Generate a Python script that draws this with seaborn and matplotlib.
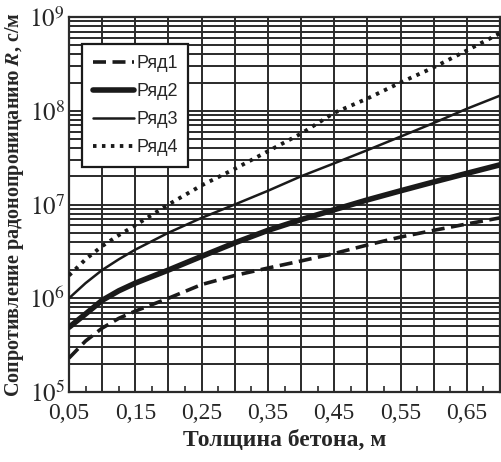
import matplotlib
matplotlib.use("Agg")
import matplotlib.pyplot as plt
import matplotlib.transforms as mtransforms
import seaborn as sns
import numpy as np
import pandas as pd

# Concrete thickness, m
thickness = [0.05, 0.075, 0.10, 0.125, 0.15, 0.20, 0.25, 0.30, 0.35, 0.40,
             0.45, 0.50, 0.55, 0.60, 0.65, 0.70]

# Radon permeability resistance R, s/m
row1 = [2.3e5, 3.5e5, 4.8e5, 6.1e5, 7.3e5, 1.0e6, 1.4e6, 1.75e6, 2.1e6, 2.5e6,
        3.0e6, 3.7e6, 4.5e6, 5.3e6, 6.2e6, 7.2e6]
row2 = [4.9e5, 6.8e5, 9.5e5, 1.2e6, 1.45e6, 2.0e6, 2.8e6, 3.9e6, 5.3e6, 6.9e6,
        8.8e6, 1.12e7, 1.4e7, 1.74e7, 2.15e7, 2.65e7]
row3 = [1.0e6, 1.45e6, 2.0e6, 2.6e6, 3.3e6, 5.0e6, 7.2e6, 1.0e7, 1.4e7, 2.0e7,
        2.75e7, 3.8e7, 5.3e7, 7.4e7, 1.05e8, 1.45e8]
row4 = [1.75e6, 2.6e6, 3.6e6, 4.7e6, 6.0e6, 1.0e7, 1.6e7, 2.4e7, 3.7e7, 5.7e7,
        9.5e7, 1.35e8, 2.0e8, 2.9e8, 4.4e8, 6.7e8]

series_names = ["Ряд1", "Ряд2", "Ряд3", "Ряд4"]

x_ticks = [0.05, 0.15, 0.25, 0.35, 0.45, 0.55, 0.65]
x_tick_labels = ["0,05", "0,15", "0,25", "0,35", "0,45", "0,55", "0,65"]
y_ticks = [1e5, 1e6, 1e7, 1e8, 1e9]
y_tick_labels = [r"$10^5$", r"$10^6$", r"$10^7$", r"$10^8$", r"$10^9$"]

df = pd.DataFrame({
    "x": thickness * 4,
    "R": row1 + row2 + row3 + row4,
    "series": sum([[n] * len(thickness) for n in series_names], []),
})

sns.set_theme(style="white")
plt.rcParams["font.family"] = ["Liberation Serif", "DejaVu Serif"]
plt.rcParams["mathtext.fontset"] = "stix"

fig = plt.figure(figsize=(5.02, 4.62), dpi=100)
ax = fig.add_axes([69 / 502, 70 / 462, 431 / 502, 375 / 462])

styles = {
    "Ряд1": dict(linestyle=(0, (3.6, 1.8)), linewidth=2.6),
    "Ряд2": dict(linestyle="-", linewidth=4.0),
    "Ряд3": dict(linestyle="-", linewidth=1.8),
    "Ряд4": dict(linestyle=(0, (0.9, 1.4)), linewidth=2.8),
}

for name in series_names:
    sub = df[df["series"] == name]
    sns.lineplot(data=sub, x="x", y="R", ax=ax, color="#1a1a1a",
                 label=name, zorder=3, **styles[name])

ax.set_yscale("log")
ax.set_xlim(0.05, 0.70)
ax.set_ylim(1e5, 1e9)

# grid: every 0.05 m vertically, every log minor step horizontally
major_locs = np.arange(0.05, 0.701, 0.05)
ax.set_xticks(major_locs, minor=False)
ax.set_xticks(np.arange(0.075, 0.70, 0.05), minor=True)
ax.grid(True, which="major", axis="x", color="#2a2a2a", linewidth=1.4)
ax.set_yticks(y_ticks)
ax.yaxis.set_minor_locator(matplotlib.ticker.LogLocator(base=10, subs=np.arange(2, 10)))
ax.yaxis.set_minor_formatter(matplotlib.ticker.NullFormatter())
ax.grid(True, which="both", axis="y", color="#2a2a2a", linewidth=1.4)
ax.set_axisbelow(True)

# tick labels only every 0.1 m
labels = []
for v in major_locs:
    match = [lab for t, lab in zip(x_ticks, x_tick_labels) if abs(t - v) < 1e-6]
    labels.append(match[0] if match else "")
ax.set_xticklabels(labels, fontsize=17)
ax.set_yticklabels(y_tick_labels, fontsize=18)
first = ax.get_xticklabels()[0]
first.set_transform(first.get_transform() +
                    mtransforms.ScaledTranslation(8 / 100, 0, fig.dpi_scale_trans))

ax.tick_params(axis="x", which="major", length=0, pad=8)
ax.tick_params(axis="x", which="minor", direction="in", length=4, width=1.2,
               color="#2a2a2a", bottom=True)
ax.tick_params(axis="y", which="both", length=0, pad=3)

for sp in ax.spines.values():
    sp.set_color("#2a2a2a")
    sp.set_linewidth(1.6)

ax.set_xlabel("Толщина бетона, м", fontsize=17, fontweight="bold", labelpad=4)
ax.set_ylabel(r"Сопротивление радонопроницанию $\boldsymbol{R}$, с/м",
              fontsize=14.5, fontweight="bold", labelpad=2)

leg = ax.legend(loc="upper left", bbox_to_anchor=(0.03, 0.928),
                prop={"family": "Liberation Sans", "size": 13},
                frameon=True, fancybox=False, framealpha=1,
                edgecolor="#1a1a1a", handlelength=2.3, handletextpad=0.1,
                labelspacing=0.62, borderpad=0.6, borderaxespad=0)
leg.get_frame().set_linewidth(1.6)

fig.savefig("out.png", dpi=100, facecolor="white")
